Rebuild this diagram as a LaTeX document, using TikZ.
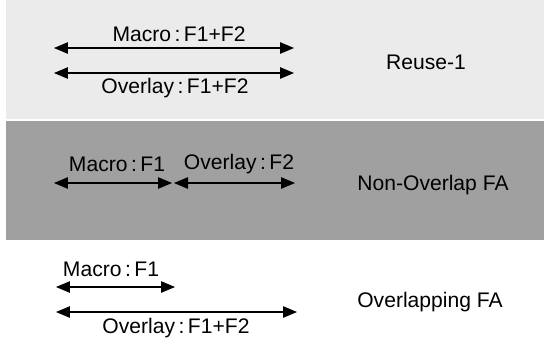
\documentclass[tikz,border=0pt]{standalone}
\usepackage{fontspec}
\setmainfont{Liberation Sans}
\usetikzlibrary{arrows.meta,positioning}
\definecolor{BandLight}{HTML}{EBEBEB}
\definecolor{BandDark}{HTML}{A0A0A0}

\begin{document}
\begin{tikzpicture}[
x=0.02cm,y=-0.02cm,
lbl/.style={font=\fontsize{12}{14}\selectfont,inner sep=0pt},
span/.style={{Triangle[length=2.8mm,width=2.3mm]}-{Triangle[length=2.8mm,width=2.3mm]},line width=0.6pt}
]
\useasboundingbox (0,0) rectangle (544,343);
\fill[BandLight] (6,0) rectangle (544,119);
\fill[BandDark] (6,121) rectangle (544,240);
% reuse-1
\coordinate (rmL) at (54,48);  \coordinate (rmR) at (294,48);
\coordinate (roL) at (54,73);  \coordinate (roR) at (294,73);
\draw[span] (rmL) -- (rmR);
\draw[span] (roL) -- (roR);
\node[lbl] (rmac) at (179,34) {Macro\,:\,F1+F2};
\node[lbl] (rovl) at (175,88) {Overlay\,:\,F1+F2};
\node[lbl] (reuse) at (426,62) {Reuse-1};
% non-overlap
\coordinate (nmL) at (54,183); \coordinate (nmR) at (172,183);
\coordinate (noL) at (174,183); \coordinate (noR) at (295,183);
\draw[span] (nmL) -- (nmR);
\draw[span] (noL) -- (noR);
\node[lbl] (nmac) at (117,164) {Macro\,:\,F1};
\node[lbl] (novl) at (239,164) {Overlay\,:\,F2};
\node[lbl] (nonov) at (433,185) {Non-Overlap FA};
% overlapping
\coordinate (omL) at (56,287); \coordinate (omR) at (175,287);
\coordinate (ooL) at (56,312); \coordinate (ooR) at (297,312);
\draw[span] (omL) -- (omR);
\draw[span] (ooL) -- (ooR);
\node[lbl] (omac) at (111,269) {Macro\,:\,F1};
\node[lbl] (oovl) at (176,328) {Overlay\,:\,F1+F2};
\node[lbl] (ovlp) at (430,302) {Overlapping FA};
\end{tikzpicture}
\end{document}
